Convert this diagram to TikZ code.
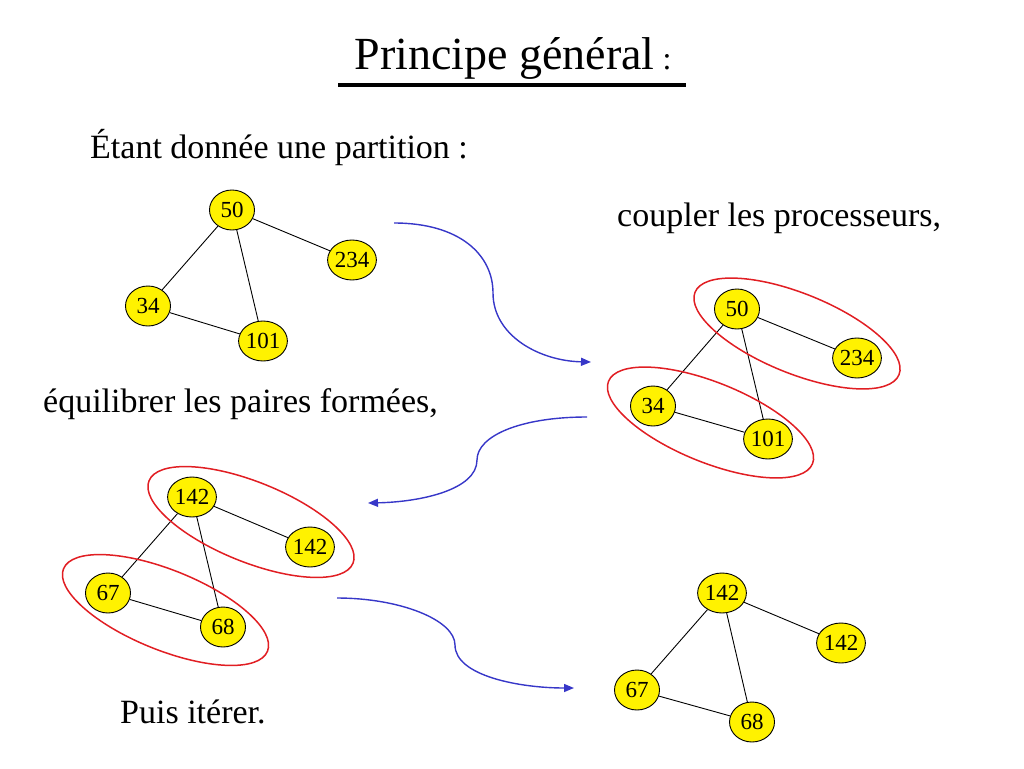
\documentclass[tikz,border=0pt]{standalone}
\usepackage{fontspec}
\setmainfont{Liberation Serif}
\usetikzlibrary{shapes.geometric,arrows.meta,calc}

\tikzset{
  proc/.style={ellipse, draw=black, line width=0.9pt, fill=yellow,
    minimum width=45pt, minimum height=40pt, inner sep=0pt,
    font=\fontsize{23}{26}\selectfont},
  lien/.style={draw=black, line width=0.9pt},
  paire/.style={draw=paireRouge, line width=1.5pt},
  fleche/.style={draw=flecheBleu, line width=1.4pt,
    -{Triangle[length=10pt,width=8pt]}},
  texte/.style={anchor=base west, inner sep=0pt,
    font=\fontsize{34}{40}\selectfont}
}
\definecolor{paireRouge}{RGB}{225,30,35}
\definecolor{flecheBleu}{RGB}{55,55,200}

\begin{document}
\begin{tikzpicture}[x=1pt,y=-1pt]
  \useasboundingbox (0,0) rectangle (1024,768);

  % titre
  \node[anchor=base, inner sep=0pt] (titre) at (513,70)
    {\fontsize{46}{54}\selectfont Principe général\fontsize{32}{34}\selectfont\ :};
  \draw[line width=3.5pt] (338,85) -- (686,85);

  % textes
  \node[texte] (etant) at (90,158) {Étant donnée une partition :};
  \node[texte] (coupler) at (617,226) {coupler les processeurs,};
  \node[texte] (equil) at (43,412) {équilibrer les paires formées,};
  \node[texte] (iterer) at (120,723) {Puis itérer.};

  % partition de depart
  \node[proc] (a50) at (232,210) {50};
  \node[proc] (a234) at (352,260) {234};
  \node[proc] (a34) at (148,306) {34};
  \node[proc] (a101) at (263,341) {101};
  \draw[lien] (a50) -- (a234);
  \draw[lien] (a50) -- (a34);
  \draw[lien] (a50) -- (a101);
  \draw[lien] (a34) -- (a101);

  % couplage
  \node[proc] (b50) at (737,309) {50};
  \node[proc] (b234) at (857,358) {234};
  \node[proc] (b34) at (653,406) {34};
  \node[proc] (b101) at (768,439) {101};
  \draw[lien] (b50) -- (b234);
  \draw[lien] (b50) -- (b34);
  \draw[lien] (b50) -- (b101);
  \draw[lien] (b34) -- (b101);
  \draw[paire, rotate around={-22:($(b50)!.5!(b234)$)}] ($(b50)!.5!(b234)$) ellipse (110 and 40);
  \draw[paire, rotate around={-22:($(b34)!.5!(b101)$)}] ($(b34)!.5!(b101)$) ellipse (110 and 40);

  % equilibrage
  \node[proc] (c142) at (192,497) {142};
  \node[proc] (c142b) at (310,547) {142};
  \node[proc] (c67) at (108,593) {67};
  \node[proc] (c68) at (223,627) {68};
  \draw[lien] (c142) -- (c142b);
  \draw[lien] (c142) -- (c67);
  \draw[lien] (c142) -- (c68);
  \draw[lien] (c67) -- (c68);
  \draw[paire, rotate around={-22:($(c142)!.5!(c142b)$)}] ($(c142)!.5!(c142b)$) ellipse (110 and 40);
  \draw[paire, rotate around={-22:($(c67)!.5!(c68)$)}] ($(c67)!.5!(c68)$) ellipse (110 and 40);

  % resultat
  \node[proc] (d142) at (722,593) {142};
  \node[proc] (d142b) at (841,643) {142};
  \node[proc] (d67) at (637,690) {67};
  \node[proc] (d68) at (752,722) {68};
  \draw[lien] (d142) -- (d142b);
  \draw[lien] (d142) -- (d67);
  \draw[lien] (d142) -- (d68);
  \draw[lien] (d67) -- (d68);

  % fleches
  \coordinate (dep1) at (394,223);
  \coordinate (arr1) at (591,362);
  \coordinate (dep2) at (587,417);
  \coordinate (arr2) at (368,503);
  \coordinate (dep3) at (337,598);
  \coordinate (arr3) at (574,688);
  \draw[fleche] (dep1) .. controls (460,223) and (493,255) .. (493,293)
    .. controls (493,336) and (540,361) .. (arr1);
  \draw[fleche] (dep2) .. controls (520,417) and (477,436) .. (477,460)
    .. controls (477,490) and (420,502) .. (arr2);
  \draw[fleche] (dep3) .. controls (400,598) and (455,620) .. (455,645)
    .. controls (455,676) and (520,688) .. (arr3);
\end{tikzpicture}
\end{document}
